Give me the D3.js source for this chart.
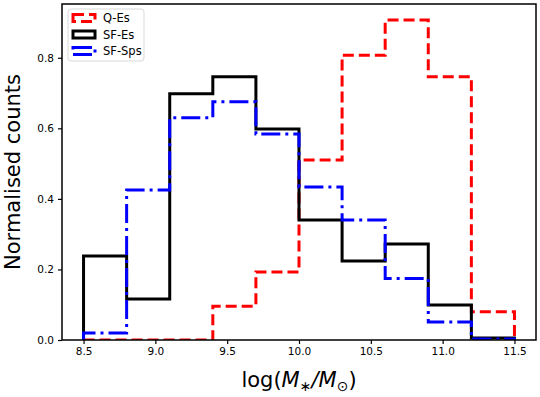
<!DOCTYPE html>
<html>
<head>
<meta charset="utf-8">
<script src="https://cdn.jsdelivr.net/npm/d3@7"></script>
<style>
    body { margin: 0; background: #fff; }
    svg { font-family: 'DejaVu Sans', sans-serif; }
</style>
</head>
<body>
<svg id="chart" width="540" height="397"></svg>
<script>
// bin edges shared by all three histograms
const binEdges = [8.5, 8.8, 9.1, 9.4, 9.7, 10.0, 10.3, 10.6, 10.9, 11.2, 11.5];

const qEs = [0, 0, 0, 0.096, 0.193, 0.51, 0.807, 0.907, 0.746, 0.08];
const sfEs = [0.238, 0.116, 0.698, 0.746, 0.598, 0.34, 0.224, 0.272, 0.099, 0.006];
const sfSps = [0.02, 0.425, 0.63, 0.675, 0.584, 0.434, 0.34, 0.174, 0.051, 0.003];

const seriesNames = ['Q-Es', 'SF-Es', 'SF-Sps'];
const xTicks = [8.5, 9.0, 9.5, 10.0, 10.5, 11.0, 11.5];
const yTicks = [0.0, 0.2, 0.4, 0.6, 0.8];

const series = [
    { name: seriesNames[0], values: qEs, color: '#ff0000', dash: '11,5' },
    { name: seriesNames[1], values: sfEs, color: '#000000', dash: null },
    { name: seriesNames[2], values: sfSps, color: '#0000ff', dash: '19,5,3,5' }
];

const margin = { left: 62, right: 4, top: 4, bottom: 57 };
const width = 540, height = 397;
const svg = d3.select('#chart');

const x = d3.scaleLinear().domain([8.35, 11.65]).range([margin.left, width - margin.right]);
const y = d3.scaleLinear().domain([0, 0.9524]).range([height - margin.bottom, margin.top]);

// step path like matplotlib histtype='step'
function stepPoints(values) {
    const pts = [[binEdges[0], 0]];
    values.forEach((v, i) => {
        pts.push([binEdges[i], v]);
        pts.push([binEdges[i + 1], v]);
    });
    pts.push([binEdges[binEdges.length - 1], 0]);
    return pts;
}

const line = d3.line().x(d => x(d[0])).y(d => y(d[1]));

const plot = svg.append('g');
plot.append('defs').append('clipPath').attr('id', 'clip')
    .append('rect')
    .attr('x', margin.left).attr('y', margin.top)
    .attr('width', width - margin.left - margin.right)
    .attr('height', height - margin.top - margin.bottom);

plot.selectAll('path.hist')
    .data(series)
    .enter()
    .append('path')
    .attr('class', 'hist')
    .attr('clip-path', 'url(#clip)')
    .attr('d', d => line(stepPoints(d.values)))
    .attr('fill', 'none')
    .attr('stroke', d => d.color)
    .attr('stroke-width', 3)
    .attr('stroke-linejoin', 'miter')
    .attr('stroke-dasharray', d => d.dash);

// axes
const xAxis = d3.axisBottom(x).tickValues(xTicks).tickFormat(d3.format('.1f')).tickSize(4).tickPadding(4);
const yAxis = d3.axisLeft(y).tickValues(yTicks).tickFormat(d3.format('.1f')).tickSize(4).tickPadding(4);

const gx = svg.append('g').attr('transform', `translate(0,${height - margin.bottom})`).call(xAxis);
const gy = svg.append('g').attr('transform', `translate(${margin.left},0)`).call(yAxis);
[gx, gy].forEach(g => {
    g.select('.domain').remove();
    g.selectAll('.tick line').attr('stroke', '#000').attr('stroke-width', 1.2);
    g.selectAll('.tick text').attr('font-size', 10.5).attr('fill', '#000')
        .attr('font-family', 'DejaVu Sans');
});

// frame
svg.append('rect')
    .attr('x', margin.left).attr('y', margin.top)
    .attr('width', width - margin.left - margin.right)
    .attr('height', height - margin.top - margin.bottom)
    .attr('fill', 'none')
    .attr('stroke', '#000')
    .attr('stroke-width', 1.5);

// axis labels
svg.append('text')
    .attr('transform', `translate(20,${(margin.top + height - margin.bottom) / 2}) rotate(-90)`)
    .attr('text-anchor', 'middle')
    .attr('font-size', 21)
    .text('Normalised counts');

const xl = svg.append('text')
    .attr('x', (margin.left + width - margin.right) / 2)
    .attr('y', 387)
    .attr('text-anchor', 'middle')
    .attr('font-size', 21);
xl.append('tspan').text('log(');
xl.append('tspan').attr('font-style', 'italic').text('M');
xl.append('tspan').attr('font-size', 14).attr('dy', 4).text('∗');
xl.append('tspan').attr('dy', -4).attr('font-style', 'italic').text('/M');
xl.append('tspan').attr('font-size', 14).attr('dy', 4).text('⊙');
xl.append('tspan').attr('dy', -4).text(')');

// legend
const legend = svg.append('g').attr('transform', 'translate(68,9)');
legend.append('rect')
    .attr('width', 76).attr('height', 52)
    .attr('rx', 3)
    .attr('fill', '#fff')
    .attr('stroke', '#d9d9d9')
    .attr('stroke-width', 1);

const entry = legend.selectAll('g.entry')
    .data(series)
    .enter()
    .append('g')
    .attr('class', 'entry')
    .attr('transform', (d, i) => `translate(0,${9 + i * 16.5})`);

entry.append('rect')
    .attr('x', 5).attr('y', -3.5)
    .attr('width', 22).attr('height', 7)
    .attr('fill', 'none')
    .attr('stroke', d => d.color)
    .attr('stroke-width', 3)
    .attr('stroke-dasharray', d => d.dash);

entry.append('text')
    .attr('x', 35).attr('y', 4)
    .attr('font-size', 11.5)
    .text(d => d.name);
</script>
</body>
</html>
